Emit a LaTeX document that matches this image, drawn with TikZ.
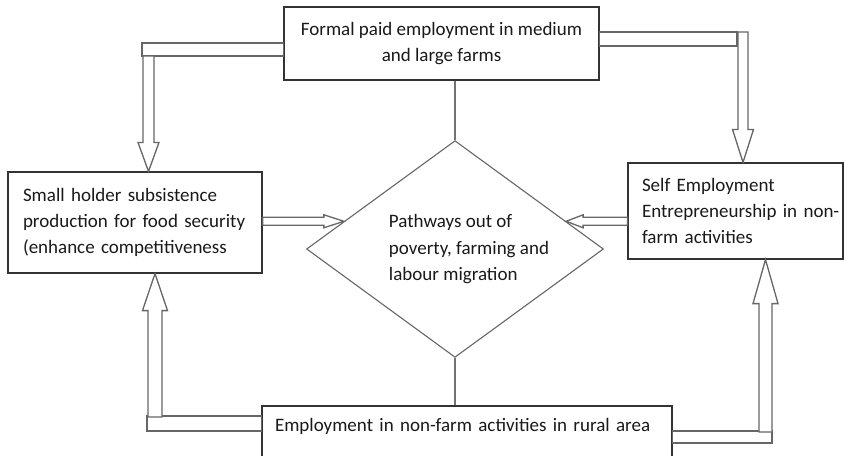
\documentclass[tikz,border=0pt]{standalone}
\usepackage{fontspec}
\setmainfont{Carlito}
\usetikzlibrary{calc,shapes.geometric}

\tikzset{
  box/.style={draw=black!80, line width=1.2pt, inner ysep=0pt, align=left,
    font=\fontsize{19}{26}\selectfont, text=black!90},
  blk/.style={draw=black!60, line width=1.3pt, fill=white, line join=miter},
  link/.style={draw=black!55, line width=1.2pt}
}

\begin{document}
\begin{tikzpicture}[x=1pt,y=-1pt]
			%%%%% START %%%%%
			\useasboundingbox (0,0) rectangle (845,455);
			\clip (0,0) rectangle (845,455);

			\node[box, minimum width=315, minimum height=73, align=center] (formal) at (441.5,43.5)
				{Formal paid employment in medium\\and large farms};
			\node[box, minimum width=254, minimum height=101, inner xsep=15, text width=224] (smallholder) at (135,222.5)
				{Small holder subsistence\\production for food security\\(enhance competitiveness};
			\node[box, minimum width=215, minimum height=96, inner xsep=14, text width=187] (selfemp) at (735.5,211)
				{\mbox{Self Employment}\\\mbox{Entrepreneurship in non-}\\\mbox{farm activities}};
			\node[box, minimum width=410, minimum height=61, inner xsep=13, text width=384] (nonfarm) at (467,436.5)
				{Employment in non-farm activities in rural area\\[-10pt]\strut};
			\node[diamond, draw=black!60, line width=1.1pt, shape aspect=1.37, minimum width=294, minimum height=214,
				inner sep=0pt, font=\fontsize{19}{26.5}\selectfont, text=black!90] (pathways) at (455,249)
				{\begin{tabular}{@{\hspace{28pt}}l@{}}Pathways out of\\poverty, farming and\\labour migration\end{tabular}};

			\draw[link] (formal.south -| pathways.north) -- (pathways.north);
			\draw[link] (pathways.south) -- (pathways.south |- nonfarm.north);

			\coordinate (tlbend) at (148.5,49.5);
			\coordinate (trbend) at (743,39);
			\coordinate (blbend) at (155,423.5);
			\coordinate (brbend) at (765.5,437);

			% formal -> small holder
			\draw[blk] ($(tlbend)+(-6.5,-6.5)$) rectangle ($(formal.west |- tlbend)+(0,6.5)$);
			\draw[blk] (tlbend |- smallholder.north) -- ++(-10.5,-29) -- ++(5,0) -- ($(tlbend)+(-5.5,6.5)$) -- ++(11,0)
				-- ($(tlbend |- smallholder.north)+(5.5,-29)$) -- ++(5,0) -- cycle;

			% formal -> self employment
			\draw[blk] ($(formal.east |- trbend)+(0,-7)$) rectangle ($(trbend)+(-6,7)$);
			\draw[blk] (trbend |- selfemp.north) -- ++(-10.5,-33) -- ++(5.5,0) -- ($(trbend)+(-5,-7)$) -- ++(10,0)
				-- ($(trbend |- selfemp.north)+(5,-33)$) -- ++(5.5,0) -- cycle;

			% non-farm -> small holder
			\draw[blk] ($(blbend)+(-8,-7.5)$) rectangle ($(nonfarm.west |- blbend)+(0,7.5)$);
			\draw[blk] (blbend |- smallholder.south) -- ++(-12.5,37) -- ++(5.5,0) -- ($(blbend)+(-7,-6.5)$) -- ++(14,0)
				-- ($(blbend |- smallholder.south)+(7,37)$) -- ++(5.5,0) -- cycle;

			% non-farm -> self employment
			\draw[blk] ($(nonfarm.east |- brbend)+(0,-6)$) rectangle ($(brbend)+(6.5,6)$);
			\draw[blk] (brbend |- selfemp.south) -- ++(-12.5,44) -- ++(6,0) -- ($(brbend)+(-6.5,-5)$) -- ++(13,0)
				-- ($(brbend |- selfemp.south)+(6.5,44)$) -- ++(6,0) -- cycle;

			% boxes -> pathways
			\draw[blk] ($(smallholder.east |- pathways.166)+(0,-4)$) -- ($(pathways.166)+(-20,-4)$) -- ++(0,-2.5)
				-- (pathways.166) -- ($(pathways.166)+(-20,6.5)$) -- ++(0,-2.5) -- ($(smallholder.east |- pathways.166)+(0,4)$) -- cycle;
			\draw[blk] ($(selfemp.west |- pathways.14)+(0,-4)$) -- ($(pathways.14)+(17,-4)$) -- ++(0,-2.5)
				-- (pathways.14) -- ($(pathways.14)+(17,6.5)$) -- ++(0,-2.5) -- ($(selfemp.west |- pathways.14)+(0,4)$) -- cycle;
			%%%%% END %%%%%
\end{tikzpicture}
\end{document}
